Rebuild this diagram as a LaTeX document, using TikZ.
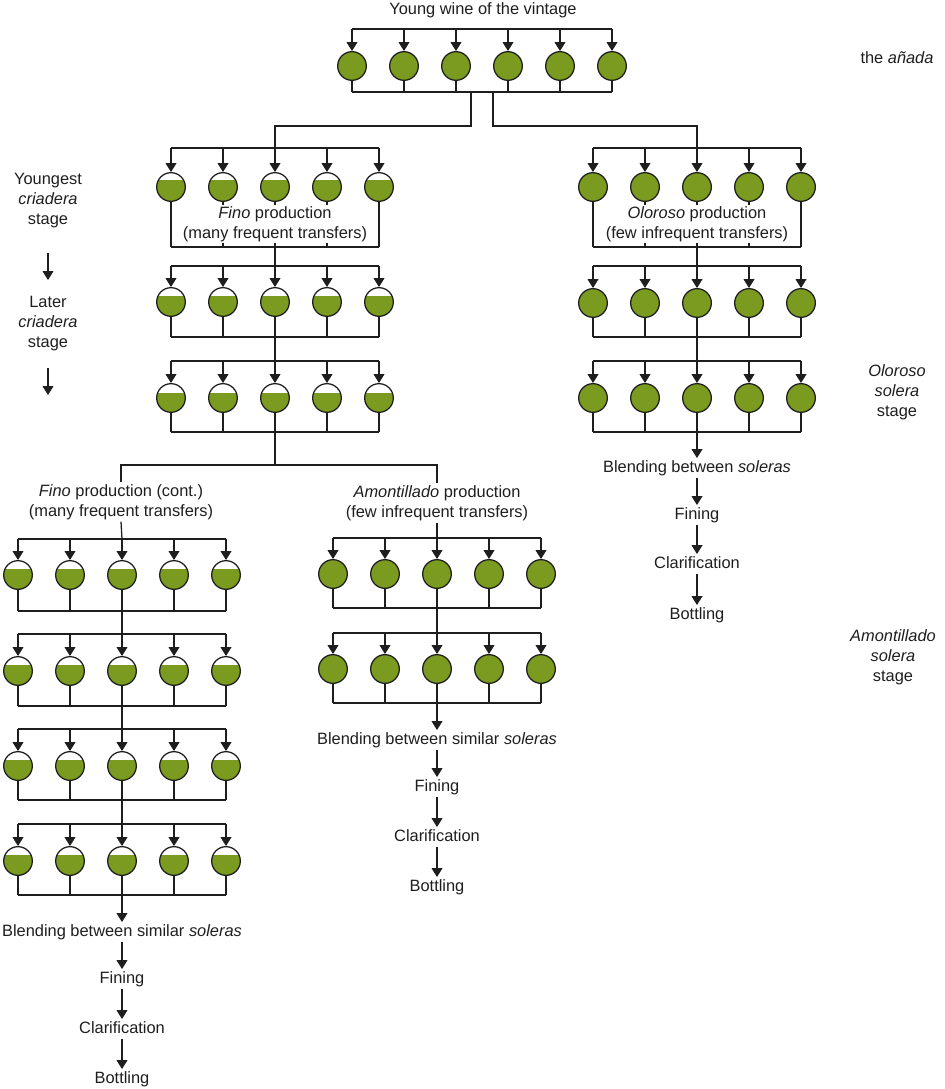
\documentclass[tikz,border=0pt]{standalone}
\usepackage{fontspec}
\setmainfont{Liberation Sans}
\usetikzlibrary{arrows.meta, calc}

\definecolor{wine}{RGB}{122,155,32}
\definecolor{ink}{RGB}{30,30,30}

% one row of casks: name, style, x positions, top line, centre, bottom line
\newcommand{\caskrow}[6]{%
  \foreach \x [count=\i] in {#3} {
    \coordinate (#1-t\i) at (\x,#4);
    \coordinate (#1-b\i) at (\x,#6);
    \node[#2] (#1-\i) at (\x,#5) {};
    \draw[flow] (#1-t\i) -- (#1-\i);
    \draw (#1-\i) -- (#1-b\i);
  }
}

\begin{document}
\begin{tikzpicture}[x=0.75pt, y=-0.75pt, line width=0.95pt, color=ink,
  cask/.style={circle, draw=ink, minimum size=21.5pt, inner sep=0pt, line width=0.95pt},
  full/.style={cask, fill=wine},
  part/.style={cask, fill=white, path picture={\fill[wine] (path picture bounding box.south west) rectangle ([yshift=#1]path picture bounding box.east);}},
  part/.default=5pt,
  flow/.style={-{Triangle[width=8pt,length=6.6pt]}},
  lbl/.style={font=\fontsize{12.3}{15}\selectfont, align=center, inner sep=1pt},
  proc/.style={lbl, text height=9pt, text depth=3pt}]
\useasboundingbox (0,0) rectangle (945,1089);

% the vintage
\node[lbl] (vintage) at (483,10) {Young wine of the vintage};
\caskrow{ana}{full}{352,404,456,508,560,612}{29}{66}{92}
\draw (ana-t1) -- (ana-t6) (ana-b1) -- (ana-b6);
\coordinate (sl) at (471,92);
\coordinate (sl2) at (471,126);
\coordinate (sr) at (493,92);
\coordinate (sr2) at (493,126);

% fino criaderas
\caskrow{fino1}{part=5.4pt}{171,223,275,327,379}{148}{187}{247}
\draw (fino1-t1) -- (fino1-t5) (fino1-b1) -- (fino1-b5);
\draw (sl) -- (sl2) -| (fino1-t3);
\node[lbl, fill=white] (finotxt) at (275,224) {\textit{Fino} production\\(many frequent transfers)};
\caskrow{fino2}{part=4.8pt}{171,223,275,327,379}{266}{302}{337}
\draw (fino2-t1) -- (fino2-t5) (fino2-b1) -- (fino2-b5);
\draw (fino1-b3) -- (fino2-t3);
\caskrow{fino3}{part=4pt}{171,223,275,327,379}{361}{398}{432}
\draw (fino3-t1) -- (fino3-t5) (fino3-b1) -- (fino3-b5);
\draw (fino2-b3) -- (fino3-t3);

% oloroso
\caskrow{olo1}{full}{593,645,697,749,801}{148}{187}{247}
\draw (olo1-t1) -- (olo1-t5) (olo1-b1) -- (olo1-b5);
\draw (sr) -- (sr2) -| (olo1-t3);
\node[lbl, fill=white] (olotxt) at (697,224) {\textit{Oloroso} production\\(few infrequent transfers)};
\caskrow{olo2}{full}{593,645,697,749,801}{266}{303}{337}
\draw (olo2-t1) -- (olo2-t5) (olo2-b1) -- (olo2-b5);
\draw (olo1-b3) -- (olo2-t3);
\caskrow{olo3}{full}{593,645,697,749,801}{361}{398}{432}
\draw (olo3-t1) -- (olo3-t5) (olo3-b1) -- (olo3-b5);
\draw (olo2-b3) -- (olo3-t3);
\node[proc] (oblend) at (697,468) {Blending between \textit{soleras}};
\node[proc] (ofine) at (697,515) {Fining};
\node[proc] (oclar) at (697,564) {Clarification};
\node[proc] (obott) at (697,615) {Bottling};
\draw[flow] (olo3-b3) -- (oblend);
\draw[flow] (oblend) -- (ofine);
\draw[flow] (ofine) -- (oclar);
\draw[flow] (oclar) -- (obott);

% split after the last criadera
\coordinate (br) at (275,465);
\draw (fino3-b3) -- (br);
\node[lbl] (conttxt) at (121,502) {\textit{Fino} production (cont.)\\(many frequent transfers)};
\node[lbl] (amotxt) at (437,503) {\textit{Amontillado} production\\(few infrequent transfers)};
\draw (conttxt.north) |- (br) -| (amotxt.north);

% fino continued
\caskrow{cont1}{part=4.4pt}{18,70,122,174,226}{539}{575}{611}
\draw (cont1-t1) -- (cont1-t5) (cont1-b1) -- (cont1-b5);
\draw (conttxt.south) -- (cont1-t3);
\caskrow{cont2}{part=4.5pt}{18,70,122,174,226}{634}{671}{706}
\draw (cont2-t1) -- (cont2-t5) (cont2-b1) -- (cont2-b5);
\draw (cont1-b3) -- (cont2-t3);
\caskrow{cont3}{part=4.8pt}{18,70,122,174,226}{729}{766}{800}
\draw (cont3-t1) -- (cont3-t5) (cont3-b1) -- (cont3-b5);
\draw (cont2-b3) -- (cont3-t3);
\caskrow{cont4}{part=4.5pt}{18,70,122,174,226}{824}{861}{895}
\draw (cont4-t1) -- (cont4-t5) (cont4-b1) -- (cont4-b5);
\draw (cont3-b3) -- (cont4-t3);
\node[proc] (fblend) at (122,932) {Blending between similar \textit{soleras}};
\node[proc] (ffine) at (122,979) {Fining};
\node[proc] (fclar) at (122,1029) {Clarification};
\node[proc] (fbott) at (122,1079) {Bottling};
\draw[flow] (cont4-b3) -- (fblend);
\draw[flow] (fblend) -- (ffine);
\draw[flow] (ffine) -- (fclar);
\draw[flow] (fclar) -- (fbott);

% amontillado
\caskrow{amo1}{full}{333,385,437,489,541}{538}{574}{608}
\draw (amo1-t1) -- (amo1-t5) (amo1-b1) -- (amo1-b5);
\draw (amotxt.south) -- (amo1-t3);
\caskrow{amo2}{full}{333,385,437,489,541}{633}{669}{703}
\draw (amo2-t1) -- (amo2-t5) (amo2-b1) -- (amo2-b5);
\draw (amo1-b3) -- (amo2-t3);
\node[proc] (ablend) at (437,740) {Blending between similar \textit{soleras}};
\node[proc] (afine) at (437,787) {Fining};
\node[proc] (aclar) at (437,837) {Clarification};
\node[proc] (abott) at (437,887) {Bottling};
\draw[flow] (amo2-b3) -- (ablend);
\draw[flow] (ablend) -- (afine);
\draw[flow] (afine) -- (aclar);
\draw[flow] (aclar) -- (abott);

% stage labels
\node[lbl] (youngest) at (48,201) {Youngest\\\textit{criadera}\\stage};
\node[lbl] (later) at (48,324) {Later\\\textit{criadera}\\stage};
\coordinate (lowend) at (48,395);
\draw[flow, shorten <=17pt, shorten >=11pt] (youngest) -- (later);
\draw[flow, shorten <=11pt] (later) -- (lowend);
\node[lbl] (anada) at (897,58) {the \textit{añada}};
\node[lbl] (olostage) at (897,392) {\textit{Oloroso}\\\textit{solera}\\stage};
\node[lbl] (amostage) at (893,657) {\textit{Amontillado}\\\textit{solera}\\stage};
\end{tikzpicture}
\end{document}
